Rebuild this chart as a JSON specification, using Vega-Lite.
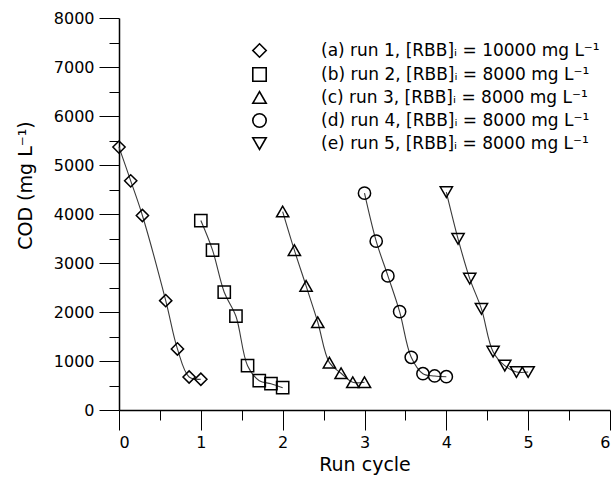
{
  "$schema": "https://vega.github.io/schema/vega-lite/v6.json",
  "width": 491,
  "height": 392,
  "autosize": {"type": "none"},
  "padding": {"left": 119, "top": 18, "right": 4, "bottom": 69},
  "config": {
    "view": {"stroke": null},
    "font": "DejaVu Sans"
  },
  "data": {
    "values": [
      {"run": "(a) run 1, [RBB]ᵢ = 10000 mg L⁻¹", "t": 0.0, "cod": 5366},
      {"run": "(a) run 1, [RBB]ᵢ = 10000 mg L⁻¹", "t": 0.143, "cod": 4677},
      {"run": "(a) run 1, [RBB]ᵢ = 10000 mg L⁻¹", "t": 0.286, "cod": 3969},
      {"run": "(a) run 1, [RBB]ᵢ = 10000 mg L⁻¹", "t": 0.571, "cod": 2232},
      {"run": "(a) run 1, [RBB]ᵢ = 10000 mg L⁻¹", "t": 0.714, "cod": 1246},
      {"run": "(a) run 1, [RBB]ᵢ = 10000 mg L⁻¹", "t": 0.857, "cod": 674},
      {"run": "(a) run 1, [RBB]ᵢ = 10000 mg L⁻¹", "t": 1.0, "cod": 627},
      {"run": "(b) run 2, [RBB]ᵢ = 8000 mg L⁻¹", "t": 1.0, "cod": 3866},
      {"run": "(b) run 2, [RBB]ᵢ = 8000 mg L⁻¹", "t": 1.143, "cod": 3262},
      {"run": "(b) run 2, [RBB]ᵢ = 8000 mg L⁻¹", "t": 1.286, "cod": 2404},
      {"run": "(b) run 2, [RBB]ᵢ = 8000 mg L⁻¹", "t": 1.429, "cod": 1914},
      {"run": "(b) run 2, [RBB]ᵢ = 8000 mg L⁻¹", "t": 1.571, "cod": 905},
      {"run": "(b) run 2, [RBB]ᵢ = 8000 mg L⁻¹", "t": 1.714, "cod": 598},
      {"run": "(b) run 2, [RBB]ᵢ = 8000 mg L⁻¹", "t": 1.857, "cod": 537},
      {"run": "(b) run 2, [RBB]ᵢ = 8000 mg L⁻¹", "t": 2.0, "cod": 455},
      {"run": "(c) run 3, [RBB]ᵢ = 8000 mg L⁻¹", "t": 2.0, "cod": 4050},
      {"run": "(c) run 3, [RBB]ᵢ = 8000 mg L⁻¹", "t": 2.143, "cod": 3262},
      {"run": "(c) run 3, [RBB]ᵢ = 8000 mg L⁻¹", "t": 2.286, "cod": 2533},
      {"run": "(c) run 3, [RBB]ᵢ = 8000 mg L⁻¹", "t": 2.429, "cod": 1791},
      {"run": "(c) run 3, [RBB]ᵢ = 8000 mg L⁻¹", "t": 2.571, "cod": 966},
      {"run": "(c) run 3, [RBB]ᵢ = 8000 mg L⁻¹", "t": 2.714, "cod": 750},
      {"run": "(c) run 3, [RBB]ᵢ = 8000 mg L⁻¹", "t": 2.857, "cod": 566},
      {"run": "(c) run 3, [RBB]ᵢ = 8000 mg L⁻¹", "t": 3.0, "cod": 566},
      {"run": "(d) run 4, [RBB]ᵢ = 8000 mg L⁻¹", "t": 3.0, "cod": 4426},
      {"run": "(d) run 4, [RBB]ᵢ = 8000 mg L⁻¹", "t": 3.143, "cod": 3446},
      {"run": "(d) run 4, [RBB]ᵢ = 8000 mg L⁻¹", "t": 3.286, "cod": 2737},
      {"run": "(d) run 4, [RBB]ᵢ = 8000 mg L⁻¹", "t": 3.429, "cod": 2008},
      {"run": "(d) run 4, [RBB]ᵢ = 8000 mg L⁻¹", "t": 3.571, "cod": 1076},
      {"run": "(d) run 4, [RBB]ᵢ = 8000 mg L⁻¹", "t": 3.714, "cod": 741},
      {"run": "(d) run 4, [RBB]ᵢ = 8000 mg L⁻¹", "t": 3.857, "cod": 694},
      {"run": "(d) run 4, [RBB]ᵢ = 8000 mg L⁻¹", "t": 4.0, "cod": 680},
      {"run": "(e) run 5, [RBB]ᵢ = 8000 mg L⁻¹", "t": 4.0, "cod": 4446},
      {"run": "(e) run 5, [RBB]ᵢ = 8000 mg L⁻¹", "t": 4.143, "cod": 3493},
      {"run": "(e) run 5, [RBB]ᵢ = 8000 mg L⁻¹", "t": 4.286, "cod": 2682},
      {"run": "(e) run 5, [RBB]ᵢ = 8000 mg L⁻¹", "t": 4.429, "cod": 2063},
      {"run": "(e) run 5, [RBB]ᵢ = 8000 mg L⁻¹", "t": 4.571, "cod": 1191},
      {"run": "(e) run 5, [RBB]ᵢ = 8000 mg L⁻¹", "t": 4.714, "cod": 905},
      {"run": "(e) run 5, [RBB]ᵢ = 8000 mg L⁻¹", "t": 4.857, "cod": 776},
      {"run": "(e) run 5, [RBB]ᵢ = 8000 mg L⁻¹", "t": 5.0, "cod": 776}
    ]
  },
  "resolve": {"axis": {"x": "independent", "y": "independent"}},
  "layer": [
    {
      "mark": {"type": "line", "interpolate": "catmull-rom", "color": "#3a3a3a", "strokeWidth": 1.1},
      "encoding": {
        "x": {
          "field": "t",
          "type": "quantitative",
          "title": "Run cycle",
          "scale": {"domain": [0, 6], "nice": false, "zero": false},
          "axis": {
            "orient": "bottom",
            "grid": false,
            "values": [0, 1, 2, 3, 4, 5, 6],
            "format": "d",
            "tickSize": 20,
            "tickColor": "black",
            "domainColor": "black",
            "domainWidth": 1.5,
            "labelColor": "black",
            "labelFontSize": 16,
            "labelFont": "DejaVu Sans",
            "titleColor": "black",
            "titleFontSize": 19,
            "titleFontWeight": "normal",
            "titleFont": "DejaVu Sans",
            "labelPadding": 4,
            "titlePadding": 5
          }
        },
        "y": {
          "field": "cod",
          "type": "quantitative",
          "title": "COD (mg L⁻¹)",
          "scale": {"domain": [0, 8000], "nice": false},
          "axis": {
            "orient": "left",
            "grid": false,
            "values": [0, 1000, 2000, 3000, 4000, 5000, 6000, 7000, 8000],
            "format": "d",
            "tickSize": 20,
            "tickColor": "black",
            "domainColor": "black",
            "domainWidth": 1.5,
            "labelColor": "black",
            "labelFontSize": 16,
            "labelFont": "DejaVu Sans",
            "titleColor": "black",
            "titleFontSize": 19,
            "titleFontWeight": "normal",
            "titleFont": "DejaVu Sans",
            "labelPadding": 5,
            "titlePadding": 18,
            "titleY": 167
          }
        },
        "detail": {"field": "run"}
      }
    },
    {
      "mark": {"type": "point", "filled": false, "stroke": "black", "strokeWidth": 1.5, "size": 150, "opacity": 1},
      "encoding": {
        "x": {
          "field": "t",
          "type": "quantitative",
          "axis": {
            "orient": "bottom",
            "grid": false,
            "values": [0.5, 1.5, 2.5, 3.5, 4.5, 5.5],
            "tickSize": 10,
            "tickColor": "black",
            "labels": false,
            "domain": false,
            "title": null
          }
        },
        "y": {
          "field": "cod",
          "type": "quantitative",
          "axis": {
            "orient": "left",
            "grid": false,
            "values": [500, 1500, 2500, 3500, 4500, 5500, 6500, 7500],
            "tickSize": 10,
            "tickColor": "black",
            "labels": false,
            "domain": false,
            "title": null
          }
        },
        "shape": {
          "field": "run",
          "type": "nominal",
          "scale": {"range": ["diamond", "square", "triangle-up", "circle", "triangle-down"]},
          "legend": {
            "orient": "none",
            "legendX": 132,
            "legendY": 24,
            "title": null,
            "labelFontSize": 17,
            "labelColor": "black",
            "labelFont": "DejaVu Sans",
            "labelOffset": 53,
            "labelLimit": 400,
            "rowPadding": 3,
            "symbolSize": 180,
            "symbolStrokeWidth": 1.6,
            "symbolStrokeColor": "black",
            "symbolFillColor": "transparent",
            "symbolOpacity": 1
          }
        }
      }
    }
  ]
}
